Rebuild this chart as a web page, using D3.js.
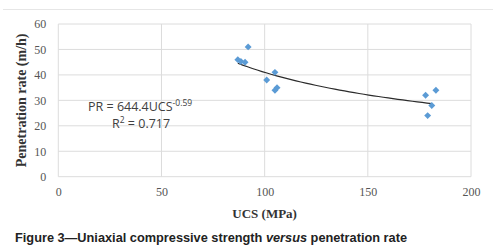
<!DOCTYPE html>
<html><head><meta charset="utf-8">
<script src="https://cdn.jsdelivr.net/npm/d3@7"></script>
<style>body{margin:0;background:#fff}svg{display:block}</style>
</head><body>
<svg id="c" width="504" height="252"></svg>
<script>
const ucs = [87, 88.5, 90.5, 92, 101, 105, 105, 106, 178, 179, 181, 183];
const pr  = [46, 45.3, 45, 51, 38, 41, 34, 35, 32, 24, 28, 34];
const xTicks = [0, 50, 100, 150, 200];
const yTicks = [0, 10, 20, 30, 40, 50, 60];
const xTitle = "UCS (MPa)";
const yTitle = "Penetration rate (m/h)";
const eqMain = "PR = 644.4UCS";
const eqExp = "-0.59";
const r2Text = "0.717";

const svg = d3.select("#c");
const L = 58.3, R = 471, T = 24, B = 176.7;
const x = d3.scaleLinear().domain([0, 200]).range([L, R]);
const y = d3.scaleLinear().domain([0, 60]).range([B, T]);

svg.append("line").attr("x1",3).attr("x2",493).attr("y1",9.5).attr("y2",9.5)
  .attr("stroke","#e6e6e6").attr("stroke-width",1);

const grid = "#dcdcdc";
svg.append("g").selectAll("line").data(yTicks).join("line")
  .attr("x1",L).attr("x2",R).attr("y1",d=>y(d)).attr("y2",d=>y(d))
  .attr("stroke",grid).attr("stroke-width",1);
svg.append("g").selectAll("line").data(xTicks).join("line")
  .attr("y1",T).attr("y2",B).attr("x1",d=>x(d)).attr("x2",d=>x(d))
  .attr("stroke",grid).attr("stroke-width",1);

const xa = svg.append("g").attr("transform",`translate(0,${B})`)
  .call(d3.axisBottom(x).tickValues(xTicks).tickSize(0).tickPadding(11));
xa.select(".domain").remove();
xa.selectAll("text").attr("font-family","Liberation Serif").attr("font-size",12).attr("fill","#555");
const ya = svg.append("g").attr("transform",`translate(${L},0)`)
  .call(d3.axisLeft(y).tickValues(yTicks).tickSize(0).tickPadding(12));
ya.select(".domain").remove();
ya.selectAll("text").attr("font-family","Liberation Serif").attr("font-size",12).attr("fill","#555");

// power regression (least squares in log space)
const lx = ucs.map(Math.log), ly = pr.map(Math.log);
const mx = d3.mean(lx), my = d3.mean(ly);
const b = d3.sum(lx.map((v,i)=>(v-mx)*(ly[i]-my))) / d3.sum(lx.map(v=>(v-mx)*(v-mx)));
const a = Math.exp(my - b*mx);
const x0 = d3.min(ucs), x1 = d3.max(ucs) - 2;
const curve = d3.range(0, 41).map(i => { const u = x0 + (x1-x0)*i/40; return [u, a*Math.pow(u,b)]; });
svg.append("path").datum(curve)
  .attr("d", d3.line().x(d=>x(d[0])).y(d=>y(d[1])))
  .attr("fill","none").attr("stroke","#2b2b2b").attr("stroke-width",1.2);

const sym = d3.symbol().type(d3.symbolSquare).size(24);
svg.append("g").selectAll("path").data(ucs).join("path")
  .attr("d", sym)
  .attr("transform",(d,i)=>`translate(${x(d)},${y(pr[i])}) rotate(45)`)
  .attr("fill","#5b9bd5");

const eq = svg.append("text").attr("x",88).attr("y",111)
  .attr("font-family","Open Sans").attr("font-size",12.5).attr("fill","#404040");
eq.append("tspan").text(eqMain);
eq.append("tspan").attr("dy",-5).attr("font-size",8.5).text(eqExp);
const r2 = svg.append("text").attr("x",112).attr("y",128)
  .attr("font-family","Open Sans").attr("font-size",12.5).attr("fill","#404040");
r2.append("tspan").text("R");
r2.append("tspan").attr("dy",-5).attr("font-size",8.5).text("2");
r2.append("tspan").attr("dy",5).text(" = " + r2Text);

svg.append("text").attr("x",(L+R)/2).attr("y",218).attr("text-anchor","middle")
  .attr("font-family","Liberation Serif").attr("font-weight","bold").attr("font-size",13)
  .attr("fill","#333").text(xTitle);
svg.append("text").attr("transform",`translate(26,${(T+B)/2}) rotate(-90)`).attr("text-anchor","middle")
  .attr("font-family","Liberation Serif").attr("font-weight","bold").attr("font-size",14)
  .attr("fill","#333").text(yTitle);

const cap = svg.append("text").attr("x",15).attr("y",242)
  .attr("font-family","Liberation Sans").attr("font-weight","bold").attr("font-size",12)
  .attr("fill","#222");
cap.append("tspan").text("Figure 3\u2014Uniaxial compressive strength ");
cap.append("tspan").attr("font-style","italic").text("versus");
cap.append("tspan").text(" penetration rate");
cap.attr("textLength", 392).attr("lengthAdjust","spacingAndGlyphs");
</script>
</body></html>
